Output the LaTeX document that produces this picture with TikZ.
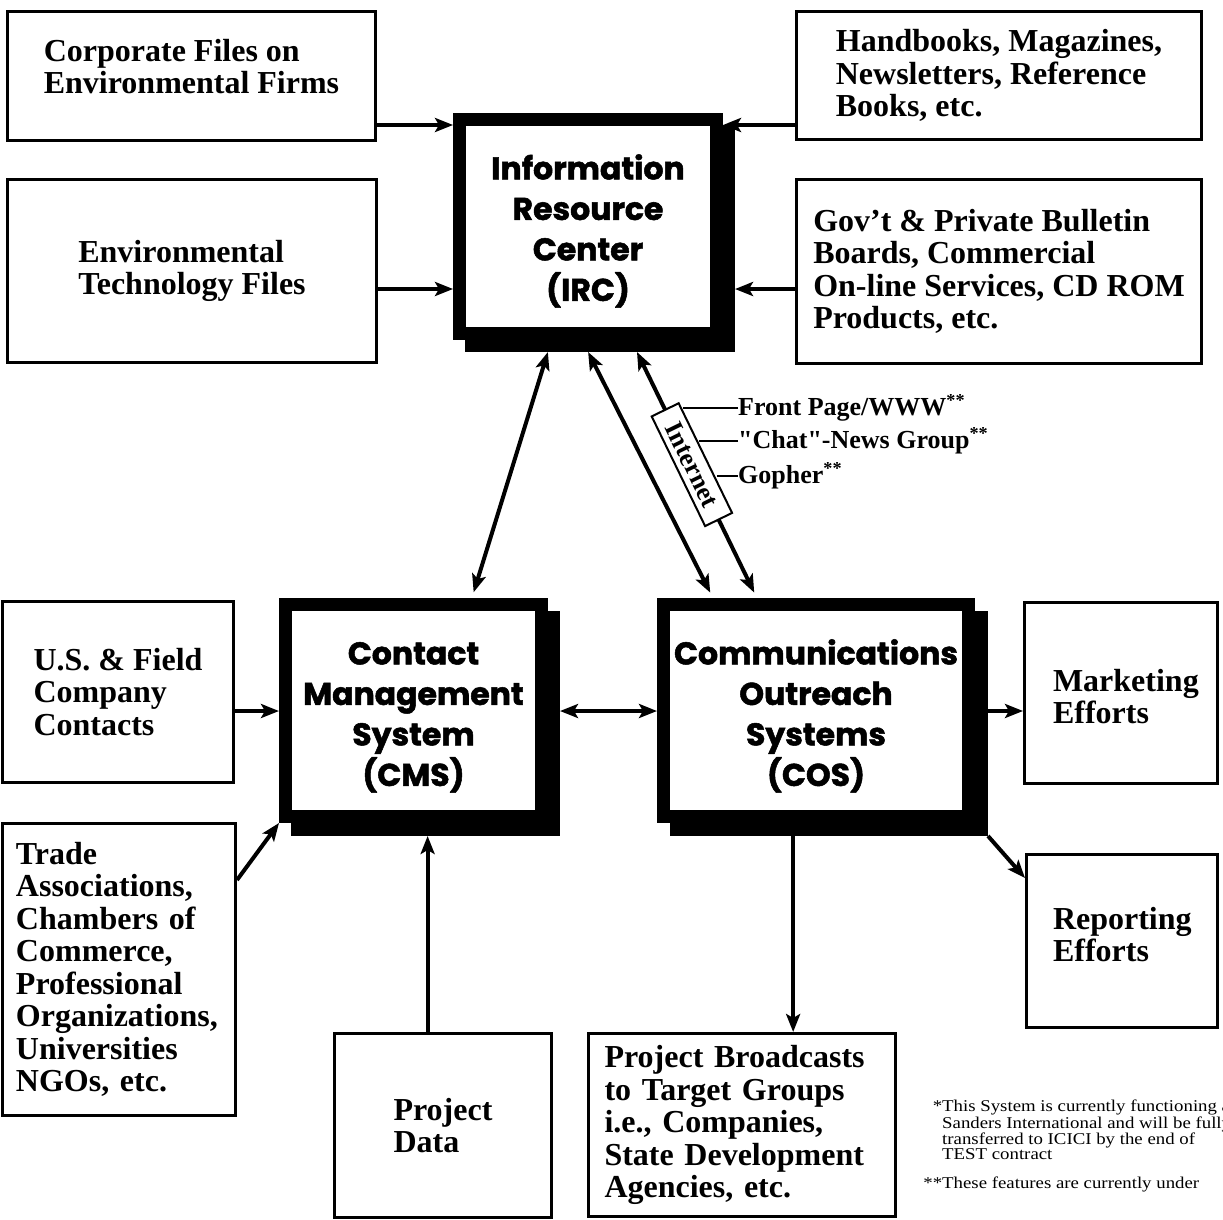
\documentclass[tikz,border=0pt]{standalone}
\usepackage{fontspec}
\setmainfont{Liberation Serif}
\newfontfamily\heavyfont{Poppins}[BoldFeatures={FakeBold=1.6}]
\newfontfamily\notefont{Liberation Serif}[FakeStretch=1.14]
\usetikzlibrary{arrows.meta,calc}
\begin{document}
\begin{tikzpicture}[x=1pt,y=-1pt,
  thinbox/.style={draw, line width=3pt, align=left, inner sep=0pt,
    font=\bfseries\fontsize{32}{32.5}\selectfont},
  mainbox/.style={draw, line width=13pt, fill=white, align=center, inner sep=0pt,
    font=\heavyfont\bfseries\fontsize{31.5}{40.5}\selectfont},
  shadowbox/.style={fill=black, inner sep=0pt, outer sep=0pt},
  tipA/.tip={Stealth[length=18pt,width=14pt,inset=4pt]},
  arr/.style={line width=4pt, -tipA},
  darr/.style={line width=4pt, tipA-tipA},
  inetbox/.style={draw, line width=2pt, fill=white, inner sep=0pt,
    minimum width=122pt, minimum height=30pt,
    font=\bfseries\fontsize{26}{26}\selectfont},
  lbl/.style={anchor=west, inner sep=0pt, font=\bfseries\fontsize{26}{28}\selectfont},
  note/.style={anchor=north west, inner sep=0pt, align=left,
    font=\notefont\fontsize{16.5}{14.4}\selectfont}
]
\useasboundingbox (0,0) rectangle (1223,1220);
\fill[white] (0,0) rectangle (1223,1220);

% row coordinates
\coordinate (r1) at (0,125);
\coordinate (r2) at (0,289);
\coordinate (r3) at (0,711);
\coordinate (r4) at (0,880);
\coordinate (r5) at (0,878);

% thin boxes
\node[thinbox, minimum width=368pt, minimum height=129pt] (corp) at (191.5,76)
  {Corporate Files on\\Environmental Firms\rule[-19pt]{0pt}{1pt}};
\node[thinbox, minimum width=405pt, minimum height=128pt] (hand) at (999,75.5)
  {Handbooks, Magazines,\\Newsletters, Reference\\Books, etc.};
\node[thinbox, minimum width=369pt, minimum height=183pt] (envt) at (192,271)
  {Environmental\\Technology Files};
\node[thinbox, minimum width=405pt, minimum height=184pt] (govt) at (999,271.5)
  {Gov't \& Private Bulletin\\Boards, Commercial\\On-line Services, CD ROM\\Products, etc.};
\node[thinbox, minimum width=231pt, minimum height=181pt] (us) at (118,692)
  {U.S. \& Field\\Company\\Contacts};
\node[thinbox, minimum width=233pt, minimum height=292pt, text width=206pt] (trade) at (119,969.5)
  {Trade\\Associations,\\Chambers of\\Commerce,\\Professional\\Organizations,\\Universities\\NGOs, etc.};
\node[thinbox, minimum width=217pt, minimum height=184pt] (pdata) at (443,1125.5)
  {Project\\Data};
\node[thinbox, minimum width=307pt, minimum height=183pt, text width=275pt] (pbc) at (742,1125)
  {Project Broadcasts\\to Target Groups\\i.e., Companies,\\State Development\\Agencies, etc.};
\node[thinbox, minimum width=193pt, minimum height=181pt, text width=136pt] (mkt) at (1121,693)
  {\rule{0pt}{29pt}Marketing\\Efforts};
\node[thinbox, minimum width=191pt, minimum height=173pt, text width=138pt] (rep) at (1122,941)
  {Reporting\\Efforts\rule[-13pt]{0pt}{1pt}};

% main boxes with shadows
\node[shadowbox, minimum width=270pt, minimum height=227pt] (ircS) at (600,238.5) {};
\node[mainbox, minimum width=257pt, minimum height=214pt] (irc) at (588,226.5)
  {\rule{0pt}{34pt}Information\\Resource\\Center\\(IRC)};
\node[shadowbox, minimum width=269pt, minimum height=225pt] (cmsS) at (425.5,723.5) {};
\node[mainbox, minimum width=256pt, minimum height=212pt] (cms) at (413.5,710.5)
  {\rule{0pt}{36pt}Contact\\Management\\System\\(CMS)};
\node[shadowbox, minimum width=318pt, minimum height=225pt] (cosS) at (829,723.5) {};
\node[mainbox, minimum width=305pt, minimum height=212pt] (cos) at (816,710.5)
  {\rule{0pt}{36pt}Communications\\Outreach\\Systems\\(COS)};

% inputs to IRC
\draw[arr] (corp.east |- r1) -- (irc.west |- r1);
\draw[arr] (hand.west |- r1) -- (irc.east |- r1);
\draw[arr] (envt.east |- r2) -- (irc.west |- r2);
\draw[arr] (govt.west |- r2) -- (ircS.east |- r2);

% IRC to CMS / COS
\coordinate (a1) at ($(ircS.south west)!0.307!(ircS.south east)$);
\coordinate (b1) at ($(cms.north west)!0.717!(cms.north east)$);
\coordinate (a2) at ($(ircS.south west)!0.456!(ircS.south east)$);
\coordinate (b2) at ($(cos.north west)!0.176!(cos.north east)$);
\coordinate (a3) at ($(ircS.south west)!0.637!(ircS.south east)$);
\coordinate (b3) at ($(cos.north west)!0.314!(cos.north east)$);
\draw[darr, shorten >=6pt] (a1) -- (b1);
\draw[darr, shorten >=6pt] (a2) -- (b2);
\draw[darr, shorten >=6pt] (a3) -- node[inetbox, sloped, pos=0.458] (inet) {Internet} (b3);

% Internet features
\node[lbl] (fp) at (738,408) {Front Page/WWW\textsuperscript{**}};
\node[lbl] (chat) at (738,441) {\textquotedbl Chat\textquotedbl-News Group\textsuperscript{**}};
\node[lbl] (goph) at (738,476) {Gopher\textsuperscript{**}};
\coordinate (l1) at ($(inet.north west)!0.066!(inet.north east)$);
\coordinate (l2) at ($(inet.north west)!0.369!(inet.north east)$);
\coordinate (l3) at ($(inet.north west)!0.69!(inet.north east)$);
\draw[line width=2pt] (fp.west) -- (fp.west -| l1);
\draw[line width=2pt] (chat.west) -- (chat.west -| l2);
\draw[line width=2pt] (goph.west) -- (goph.west -| l3);

% CMS connections
\draw[darr] (cmsS.east |- r3) -- (cos.west |- r3);
\draw[arr] (us.east |- r3) -- (cms.west |- r3);
\draw[arr] (trade.east |- r4) -- (cms.south west);
\coordinate (p1) at ($(pdata.north west)!0.43!(pdata.north east)$);
\draw[arr] (p1) -- (p1 |- cmsS.south);

% COS outputs
\coordinate (p2) at ($(pbc.north west)!0.665!(pbc.north east)$);
\draw[arr] (p2 |- cosS.south) -- (p2);
\draw[arr] (cosS.east |- r3) -- (mkt.west |- r3);
\draw[arr] (cosS.south east) -- (rep.west |- r5);

% footnotes
\node[note] (fn) at (942,1100)
  {\llap{*}This System is currently functioning at\\
   Sanders International and will be fully\\
   transferred to ICICI by the end of\\
   TEST contract\\[14.4pt]
   \llap{**}These features are currently under};
\end{tikzpicture}
\end{document}
